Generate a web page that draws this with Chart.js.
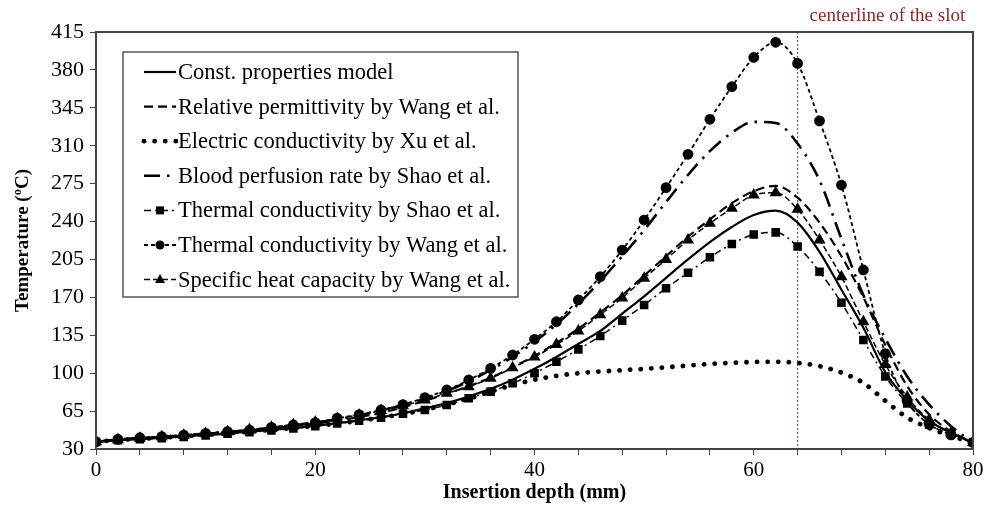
<!DOCTYPE html>
<html>
<head>
<meta charset="utf-8">
<script src="https://cdn.jsdelivr.net/npm/chart.js@4.4.1/dist/chart.umd.min.js"></script>
<style>
  html, body { margin: 0; padding: 0; background: #fff; }
  #wrap { width: 984px; height: 507px; position: relative; }
</style>
</head>
<body>
<div id="wrap"><canvas id="tempChart"></canvas></div>
<script>
// insertion depth (mm), one sample every 2 mm
const depth = [0, 2, 4, 6, 8, 10, 12, 14, 16, 18, 20, 22, 24, 26, 28, 30, 32, 34, 36, 38,
               40, 42, 44, 46, 48, 50, 52, 54, 56, 58, 60, 62, 64, 66, 68, 70, 72, 74, 76, 78, 80];

// temperature (ºC) for each model
const constModel = [36.5, 38, 39.2, 40.4, 41.6, 43, 44.5, 46, 47.6, 49.4, 51.4, 53.6, 56.5, 59.5, 63, 67.5, 72.5, 78.5, 85.5, 94,
                    104, 115, 127, 139, 155, 171, 188, 205, 221, 235, 246, 250, 239, 212, 177, 142, 101, 75, 56, 45, 36];
const relPermittivity = [36.7, 38.5, 39.8, 41, 42.4, 43.9, 45.5, 47.2, 49, 51.2, 53.5, 56.3, 59.5, 63.3, 68.5, 74.5, 81, 88, 96, 105.5,
                         116, 128, 141, 156, 172, 190, 208, 226, 242, 257, 268, 273, 262, 239, 208, 170, 126, 88, 62, 46, 36];
const elecConductivity = [36.7, 38.3, 39.4, 40.6, 41.8, 43, 44.5, 46, 47.6, 49.4, 51.3, 53.5, 56, 59, 62.3, 66.3, 71, 76.5, 83, 89,
                          94, 97.5, 100, 101.5, 102.8, 104, 105.5, 107, 108.5, 109.5, 110.3, 110.5, 109.5, 106.5, 100.5, 91, 74.5, 59, 49.5, 42, 36];
const bloodPerfusion = [36.7, 38.8, 40.2, 41.3, 42.7, 44.3, 45.8, 47.3, 49.5, 51.7, 53.8, 57.5, 61, 65.5, 70.5, 76.5, 83.5, 92.5, 103, 115,
                        129, 145, 164, 185, 208, 232, 258, 283, 305, 322, 332, 331, 312, 278, 224, 172, 132, 97, 71, 51, 36];
const thermCondShao = [36.5, 38, 39, 40, 41.2, 42.5, 44, 45.5, 47, 49, 51, 53.5, 56, 59, 62.5, 66, 70.6, 76.8, 83, 90.7,
                       100, 110.6, 122, 134.3, 148.5, 163, 178.4, 192.8, 207, 219.3, 228, 230, 217, 193.7, 165, 130.6, 97, 72, 52.5, 44, 36];
const thermCondWang = [36.7, 39, 40.4, 41.4, 42.9, 44.5, 46, 47.5, 50, 52.2, 54.3, 58.5, 61.7, 66, 71, 77.4, 84.5, 93.7, 104.5, 116.8,
                       131.3, 147.5, 167.6, 189.1, 213.7, 241.4, 271.3, 302.1, 334.4, 364.5, 391.5, 405.5, 386, 333, 273.7, 195.3, 118, 74, 53, 43, 36];
const heatCapacity = [36.7, 38.6, 40, 41.2, 42.7, 44.3, 46, 48, 50, 52.5, 55, 58, 61.5, 65.5, 70, 75.2, 81.4, 87.5, 95.3, 105,
                      115, 126.5, 139, 154, 169.5, 187.6, 205, 223, 238.4, 252.2, 264.5, 266.6, 251.3, 223, 189, 147.5, 108, 78, 57, 45, 36];

const seriesNames = [
  'Const. properties model',
  'Relative permittivity by Wang et al.',
  'Electric conductivity by Xu et al.',
  'Blood perfusion rate by Shao et al.',
  'Thermal conductivity by Shao et al.',
  'Thermal conductivity by Wang et al.',
  'Specific heat capacity by Wang et al.'
];

const yTicks = [30, 65, 100, 135, 170, 205, 240, 275, 310, 345, 380, 415];
const slotCenter = 64;

const serif = '"Liberation Serif", "Times New Roman", serif';

function pts(vals) {
  return depth.map((d, i) => ({ x: d, y: vals[i] }));
}

function line(label, vals, extra) {
  return Object.assign({
    label: label,
    data: pts(vals),
    borderColor: '#000',
    backgroundColor: '#000',
    borderWidth: 2,
    pointRadius: 0,
    cubicInterpolationMode: 'monotone',
    fill: false
  }, extra);
}

const datasets = [
  line(seriesNames[0], constModel, { borderWidth: 2.2 }),
  line(seriesNames[1], relPermittivity, { borderDash: [9, 5], borderWidth: 2.2 }),
  line(seriesNames[2], elecConductivity, { borderDash: [0.1, 10.5], borderWidth: 4.8, borderCapStyle: 'round' }),
  line(seriesNames[3], bloodPerfusion, { borderDash: [16, 7, 2.5, 7], borderWidth: 2.6 }),
  line(seriesNames[4], thermCondShao, { borderDash: [7, 4, 2, 4], borderWidth: 1.5, pointStyle: 'rect', pointRadius: 5 }),
  line(seriesNames[5], thermCondWang, { borderDash: [4, 3], borderWidth: 1.8, pointStyle: 'circle', pointRadius: 4.5 }),
  line(seriesNames[6], heatCapacity, { borderDash: [6, 3], borderWidth: 1.5, pointStyle: 'triangle', pointRadius: 5.5 })
];

// frame, slot centerline and the boxed legend
const decorations = {
  id: 'decorations',
  beforeDatasetsDraw(chart) {
    const { ctx, chartArea: a, scales } = chart;
    const xc = scales.x.getPixelForValue(slotCenter);
    ctx.save();
    ctx.strokeStyle = '#d9363e';
    ctx.lineWidth = 1.2;
    ctx.setLineDash([2, 2]);
    ctx.beginPath();
    ctx.moveTo(xc, a.top);
    ctx.lineTo(xc, a.bottom);
    ctx.stroke();
    ctx.restore();

    ctx.save();
    ctx.fillStyle = '#8b2a2a';
    ctx.font = '19px ' + serif;
    ctx.textBaseline = 'middle';
    ctx.textAlign = 'left';
    ctx.fillText('centerline of the slot', xc + 12, 16);
    ctx.restore();
  },
  afterDatasetsDraw(chart) {
    const { ctx, chartArea: a } = chart;
    ctx.save();
    ctx.strokeStyle = '#444';
    ctx.lineWidth = 2;
    ctx.strokeRect(a.left, a.top, a.right - a.left, a.bottom - a.top);
    ctx.restore();

    // legend box
    const bx = a.left + 27, by = a.top + 20, bw = 395, bh = 245;
    ctx.save();
    ctx.fillStyle = '#fff';
    ctx.fillRect(bx, by, bw, bh);
    ctx.strokeStyle = '#555';
    ctx.lineWidth = 1.5;
    ctx.strokeRect(bx, by, bw, bh);
    chart.data.datasets.forEach((ds, i) => {
      const y = by + 20 + i * 34.6;
      const x0 = bx + 21, x1 = bx + 53;
      ctx.save();
      ctx.strokeStyle = '#000';
      ctx.fillStyle = '#000';
      ctx.lineWidth = ds.borderWidth;
      ctx.lineCap = ds.borderCapStyle || 'butt';
      ctx.setLineDash(ds.borderDash || []);
      ctx.beginPath();
      ctx.moveTo(x0, y);
      ctx.lineTo(x1, y);
      ctx.stroke();
      ctx.setLineDash([]);
      const cx = (x0 + x1) / 2, r = ds.pointRadius;
      if (ds.pointStyle === 'rect') {
        ctx.fillRect(cx - r * 0.8, y - r * 0.8, r * 1.6, r * 1.6);
      } else if (ds.pointStyle === 'circle') {
        ctx.beginPath();
        ctx.arc(cx, y, r, 0, Math.PI * 2);
        ctx.fill();
      } else if (ds.pointStyle === 'triangle') {
        ctx.beginPath();
        ctx.moveTo(cx, y - r);
        ctx.lineTo(cx + r * 0.9, y + r * 0.6);
        ctx.lineTo(cx - r * 0.9, y + r * 0.6);
        ctx.closePath();
        ctx.fill();
      }
      ctx.restore();
      ctx.fillStyle = '#000';
      ctx.font = '22.5px ' + serif;
      ctx.textBaseline = 'middle';
      ctx.textAlign = 'left';
      ctx.fillText(ds.label, x1 + 2, y + 1);
    });
    ctx.restore();
  }
};

new Chart(document.getElementById('tempChart'), {
  type: 'line',
  data: { datasets: datasets },
  options: {
    responsive: true,
    maintainAspectRatio: false,
    animation: false,
    layout: { padding: { top: 32, right: 0, left: 0, bottom: 0 } },
    plugins: {
      legend: { display: false },
      tooltip: { enabled: false }
    },
    scales: {
      x: {
        type: 'linear',
        min: 0,
        max: 80,
        border: { display: true, color: '#444', width: 2 },
        grid: { drawOnChartArea: false, drawTicks: true, tickLength: 6, color: '#444' },
        ticks: {
          stepSize: 4,
          autoSkip: false,
          maxRotation: 0,
          color: '#000',
          padding: 3,
          font: { family: serif, size: 21 },
          callback: v => (v % 20 === 0 ? v : '')
        },
        title: {
          display: true,
          text: 'Insertion depth (mm)',
          color: '#000',
          padding: { top: 0, bottom: 2 },
          font: { family: serif, size: 20, weight: 'bold' }
        },
        afterFit(scale) {
          scale.height = 58;
          scale.paddingRight = 11;
        }
      },
      y: {
        type: 'linear',
        min: 30,
        max: 415,
        border: { display: true, color: '#444', width: 2 },
        grid: { drawOnChartArea: false, drawTicks: true, tickLength: 6, color: '#444' },
        afterBuildTicks(scale) { scale.ticks = yTicks.map(v => ({ value: v })); },
        ticks: {
          color: '#000',
          padding: 6,
          font: { family: serif, size: 22 }
        },
        title: {
          display: true,
          text: 'Temperature (ºC)',
          color: '#000',
          padding: { top: 12, bottom: 0 },
          font: { family: serif, size: 19, weight: 'bold' }
        },
        afterFit(scale) { scale.width = 96; }
      }
    }
  },
  plugins: [decorations]
});
</script>
</body>
</html>
